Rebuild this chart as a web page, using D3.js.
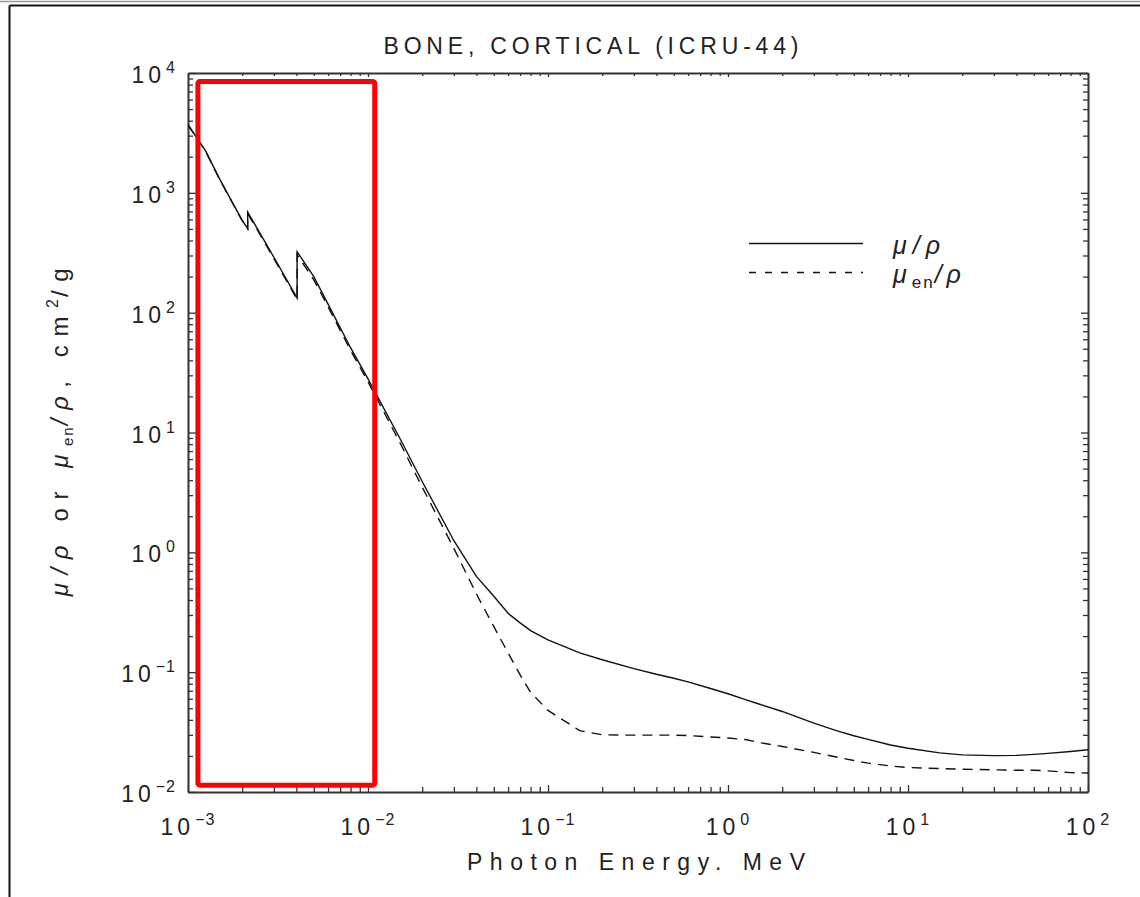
<!DOCTYPE html>
<html>
<head>
<meta charset="utf-8">
<script src="https://cdn.jsdelivr.net/npm/d3@7"></script>
<style>
  html, body { margin: 0; padding: 0; background: #fff; }
  svg text { font-family: "Liberation Sans", "DejaVu Sans", sans-serif; fill: #222; }
</style>
</head>
<body>
<div id="svgContainer"></div>
<script>
// photon energy, MeV (edges repeated for the jump)
var energy = [1.0e-3, 1.25e-3, 1.5e-3, 2.0e-3, 2.1455e-3, 2.1455e-3, 2.5e-3, 3.0e-3,
  4.0381e-3, 4.0381e-3, 5.0e-3, 6.0e-3, 8.0e-3, 1.0e-2, 1.5e-2, 2.0e-2, 3.0e-2, 4.0e-2,
  5.0e-2, 6.0e-2, 7.0e-2, 8.0e-2, 0.1, 0.15, 0.2, 0.3, 0.4, 0.5, 0.6, 0.8, 1.0, 1.25, 1.5, 2.0,
  3.0, 4.0, 5.0, 6.0, 8.0, 10, 15, 20, 30, 40, 50, 60, 80, 100];
// mu/rho, cm2/g
var muRho = [3700, 2250, 1300, 590, 505, 690, 465, 290,
  132, 322, 200, 118, 51, 28, 9.0, 3.9, 1.25, 0.63,
  0.43, 0.31, 0.258, 0.222, 0.186, 0.145, 0.127, 0.107, 0.096, 0.089, 0.083, 0.073, 0.066, 0.059, 0.054, 0.047,
  0.0375, 0.0325, 0.0295, 0.0275, 0.0247, 0.0232, 0.0212, 0.0204, 0.0201, 0.0202, 0.0206, 0.021, 0.0218, 0.0225];
// mu_en/rho, cm2/g
var muEnRho = [3680, 2235, 1290, 585, 500, 670, 455, 283,
  129, 305, 188, 112, 48.5, 26.5, 8.3, 3.5, 1.08, 0.45,
  0.24, 0.145, 0.095, 0.068, 0.048, 0.0325, 0.0300, 0.0298, 0.0298, 0.0298, 0.0296, 0.0288, 0.0282, 0.0274, 0.0258, 0.0240,
  0.0214, 0.0196, 0.0183, 0.0174, 0.0165, 0.0160, 0.0157, 0.0155, 0.0153, 0.0152, 0.0152, 0.0150, 0.0145, 0.0144];

var xExponents = [-3, -2, -1, 0, 1, 2];
var yExponents = [-2, -1, 0, 1, 2, 3, 4];

var width = 1140;
var height = 897;
var plotLeft = 188, plotRight = 1088, plotTop = 73, plotBottom = 792;

var svg = d3.select("#svgContainer")
  .append("svg").attr("width", width).attr("height", height);

var x = d3.scaleLog().domain([1e-3, 1e2]).range([plotLeft, plotRight]);
var y = d3.scaleLog().domain([1e-2, 1e4]).range([plotBottom, plotTop]);

// page frame
svg.append("line").attr("x1", 0).attr("y1", 1.5).attr("x2", width).attr("y2", 1.5)
  .style("stroke", "#999").style("stroke-width", 1.5);
svg.append("line").attr("x1", 9.5).attr("y1", 5.5).attr("x2", width).attr("y2", 5.5)
  .style("stroke", "#111").style("stroke-width", 2);
svg.append("line").attr("x1", 9.5).attr("y1", 5.5).attr("x2", 9.5).attr("y2", height)
  .style("stroke", "#111").style("stroke-width", 2);

function isMajor(d) {
  var l = Math.log10(d);
  return Math.abs(l - Math.round(l)) < 1e-6;
}

function styleAxis(g, len, minorLen, dir) {
  g.select(".domain").style("stroke", "#333").style("stroke-width", 2);
  g.selectAll(".tick line").style("stroke", "#333").style("stroke-width", 1.3)
    .attr(dir, function(d) { return isMajor(d) ? len : minorLen; });
  g.selectAll(".tick text").remove();
}

svg.append("g").attr("transform", "translate(0," + plotBottom + ")")
  .call(d3.axisBottom(x).tickValues(x.ticks()).tickSizeOuter(0).tickFormat(""))
  .call(styleAxis, -7, -5, "y2");
svg.append("g").attr("transform", "translate(0," + plotTop + ")")
  .call(d3.axisTop(x).tickValues(x.ticks()).tickSizeOuter(0).tickFormat(""))
  .call(styleAxis, 4, 3, "y2");
svg.append("g").attr("transform", "translate(" + plotLeft + ",0)")
  .call(d3.axisLeft(y).tickValues(y.ticks()).tickSizeOuter(0).tickFormat(""))
  .call(styleAxis, 8, 5, "x2");
svg.append("g").attr("transform", "translate(" + plotRight + ",0)")
  .call(d3.axisRight(y).tickValues(y.ticks()).tickSizeOuter(0).tickFormat(""))
  .call(styleAxis, -7, -5, "x2");

function expLabel(t, e) {
  t.append("tspan").text("10");
  t.append("tspan").attr("dy", -10).attr("dx", 1).style("font-size", "16px")
    .style("letter-spacing", "1px")
    .text(e < 0 ? "\u2212" + (-e) : e);
}

xExponents.forEach(function(e) {
  var t = svg.append("text").attr("x", x(Math.pow(10, e))).attr("y", 835)
    .attr("text-anchor", "middle").style("font-size", "23px").style("letter-spacing", "4px");
  expLabel(t, e);
});
yExponents.forEach(function(e) {
  var t = svg.append("text").attr("x", 176).attr("y", y(Math.pow(10, e)) + 10)
    .attr("text-anchor", "end").style("font-size", "23px").style("letter-spacing", "4px");
  expLabel(t, e);
});

// title and axis titles
svg.append("text").attr("x", 591).attr("y", 54).attr("text-anchor", "middle")
  .style("font-size", "23px").attr("textLength", 415).attr("lengthAdjust", "spacing")
  .text("BONE, CORTICAL (ICRU-44)");
svg.append("text").attr("x", 636).attr("y", 870).attr("text-anchor", "middle")
  .style("font-size", "23px").attr("textLength", 338).attr("lengthAdjust", "spacing")
  .text("Photon Energy. MeV");

var yl = svg.append("text").attr("transform", "translate(68,428) rotate(-90)")
  .attr("text-anchor", "middle").style("font-size", "24px").style("letter-spacing", "8.6px");
yl.append("tspan").style("font-style", "italic").text("\u03bc/\u03c1 ");
yl.append("tspan").text("or ");
yl.append("tspan").style("font-style", "italic").text("\u03bc");
yl.append("tspan").attr("dy", 5).style("font-size", "15px").style("letter-spacing", "2px").text("en");
yl.append("tspan").attr("dy", -5).style("font-style", "italic").text("/\u03c1");
yl.append("tspan").text(", cm");
yl.append("tspan").attr("dy", -10).style("font-size", "16px").style("letter-spacing", "2px").text("2");
yl.append("tspan").attr("dy", 10).text("/g");

// curves
svg.append("clipPath").attr("id", "plotClip").append("rect")
  .attr("x", plotLeft).attr("y", plotTop).attr("width", plotRight - plotLeft).attr("height", plotBottom - plotTop);

var muLine = d3.line()
  .x(function(d, i) { return x(energy[i]); })
  .y(function(d) { return y(d); });

svg.append("path").datum(muEnRho).attr("d", muLine).attr("clip-path", "url(#plotClip)")
  .style("fill", "none").style("stroke", "#111").style("stroke-width", 1.4)
  .style("stroke-dasharray", "10,7");
svg.append("path").datum(muRho).attr("d", muLine).attr("clip-path", "url(#plotClip)")
  .style("fill", "none").style("stroke", "#111").style("stroke-width", 1.4);

// legend
svg.append("line").attr("x1", 749).attr("y1", 243.5).attr("x2", 863).attr("y2", 243.5)
  .style("stroke", "#111").style("stroke-width", 1.5);
svg.append("line").attr("x1", 749).attr("y1", 272.5).attr("x2", 863).attr("y2", 272.5)
  .style("stroke", "#111").style("stroke-width", 1.5).style("stroke-dasharray", "7,9");
var lg1 = svg.append("text").attr("x", 893).attr("y", 254).style("font-size", "25px")
  .style("font-style", "italic").style("letter-spacing", "6px");
lg1.text("\u03bc/\u03c1");
var lg2 = svg.append("text").attr("x", 893).attr("y", 283).style("font-size", "25px")
  .style("letter-spacing", "5px");
lg2.append("tspan").style("font-style", "italic").text("\u03bc");
lg2.append("tspan").attr("dy", 5).style("font-size", "17px").style("letter-spacing", "2px").text("en");
lg2.append("tspan").attr("dy", -5).style("font-style", "italic").text("/\u03c1");

// highlight box
svg.append("rect").attr("x", x(1.135e-3)).attr("y", y(8.5e3)).attr("rx", 2)
  .attr("width", x(1.09e-2) - x(1.135e-3)).attr("height", y(1.14e-2) - y(8.5e3))
  .style("fill", "none").style("stroke", "#f00").style("stroke-width", 5);
</script>
</body>
</html>
